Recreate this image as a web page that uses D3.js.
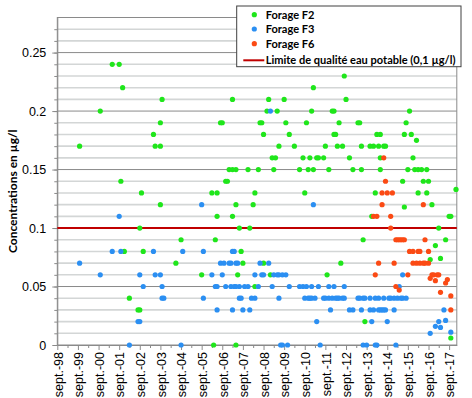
<!DOCTYPE html>
<html>
<head>
<meta charset="utf-8">
<script src="https://cdn.jsdelivr.net/npm/d3@7"></script>
<style>
    body { margin: 0; background: #fff; }
    svg { display: block; font-family: Lato, "Open Sans", sans-serif; }
</style>
</head>
<body>
<svg id="chart" width="472" height="398"></svg>
<script>
// [mois, concentration en µg/l]
const forageF2 = [
    ["1999-10",0.17],["2000-10",0.2],["2001-05",0.24],["2001-09",0.24],["2001-10",0.14],["2001-11",0.22],["2001-12",0.08],
    ["2002-03",0.04],["2002-08",0.03],["2002-09",0.03],["2002-09",0.1],["2002-10",0.13],["2002-11",0.08],
    ["2003-05",0.18],["2003-06",0.17],["2003-09",0.19],["2003-09",0.17],["2003-09",0.12],["2003-10",0.21],
    ["2004-06",0.07],["2004-09",0.09],["2005-09",0.06],
    ["2006-03",0.13],["2006-04",0],["2006-05",0.09],["2006-06",0.13],["2006-06",0.11],["2006-08",0.19],["2006-09",0.19],["2006-11",0.14],["2006-12",0.14],
    ["2007-01",0.15],["2007-03",0.15],["2007-03",0.21],["2007-03",0.11],["2007-05",0.15],["2007-05",0.12],["2007-05",0],["2007-06",0.06],["2007-07",0.1],["2007-08",0.08],["2007-09",0.07],["2007-12",0.15],
    ["2008-01",0.1],["2008-03",0.12],["2008-04",0.13],["2008-04",0.05],["2008-06",0.15],["2008-07",0.19],["2008-08",0.19],["2008-09",0.18],["2008-09",0.07],["2008-11",0.2],["2008-12",0.21],
    ["2009-01",0.06],["2009-02",0.16],["2009-03",0.15],["2009-04",0.16],["2009-05",0.2],["2009-06",0.17],["2009-09",0.21],["2009-10",0.19],["2009-12",0.18],
    ["2010-03",0.17],["2010-06",0.15],["2010-08",0.16],["2010-09",0.13],["2010-10",0.19],["2010-11",0.15],["2010-12",0.16],
    ["2011-01",0.2],["2011-02",0.15],["2011-02",0.22],["2011-04",0.16],["2011-05",0.16],["2011-08",0.16],["2011-09",0.17],["2011-10",0.06],["2011-11",0.15],
    ["2012-01",0.2],["2012-02",0.2],["2012-02",0.18],["2012-03",0.18],["2012-04",0.17],["2012-05",0.19],["2012-06",0.07],["2012-07",0.17],["2012-08",0.23],["2012-09",0.21],["2012-11",0.16],
    ["2013-01",0.15],["2013-04",0.19],["2013-05",0.19],["2013-06",0.17],["2013-06",0.15],["2013-07",0.09],["2013-08",0.02],["2013-11",0.17],["2013-12",0.11],
    ["2014-01",0.17],["2014-02",0.13],["2014-03",0.18],["2014-04",0.17],["2014-05",0.18],["2014-05",0.15],["2014-05",0.16],["2014-07",0.17],["2014-08",0.17],
    ["2015-06",0.14],["2015-07",0.118],["2015-07",0.18],["2015-08",0.19],["2015-09",0.15],["2015-10",0.2],["2015-11",0.18],["2015-12",0.16],
    ["2016-01",0.15],["2016-02",0.175],["2016-03",0.15],["2016-03",0.13],["2016-05",0.15],["2016-06",0.14],["2016-08",0.15],["2016-08",0.13],["2016-09",0.14],["2016-10",0.073],["2016-11",0.12],
    ["2017-01",0.085],["2017-03",0.1],["2017-04",0.074],["2017-07",0.09],["2017-09",0.11],["2017-10",0.11],["2017-10",0.006],["2018-01",0.133]
]

const forageF3 = [
    ["1999-10",0.07],["2000-10",0.06],["2001-05",0.08],["2001-09",0.11],["2001-10",0.08],
    ["2002-03",0],["2002-08",0.02],["2002-09",0.02],["2002-09",0.06],["2002-11",0.05],
    ["2003-05",0.08],["2003-06",0.06],["2003-09",0.06],["2003-10",0.05],["2003-10",0.04],["2003-11",0.04],
    ["2004-09",0],["2004-10",0.08],["2005-09",0.12],["2005-10",0.08],["2005-10",0.04],
    ["2006-03",0.06],["2006-05",0.05],["2006-06",0.05],["2006-06",0.03],["2006-08",0.07],["2006-09",0.06],["2006-10",0.07],["2006-11",0.05],
    ["2007-01",0.07],["2007-02",0.07],["2007-02",0.05],["2007-03",0.08],["2007-03",0.03],["2007-04",0.08],["2007-04",0.05],["2007-05",0.07],["2007-05",0.05],
    ["2007-06",0.07],["2007-07",0.05],["2007-07",0.04],["2007-08",0.04],["2007-09",0.03],["2007-10",0.05],["2007-12",0.05],
    ["2008-01",0.03],["2008-02",0.04],["2008-04",0.06],["2008-04",0.04],["2008-06",0.05],["2008-07",0.07],["2008-08",0.06],["2008-09",0.06],["2008-12",0.07],
    ["2009-01",0.2],["2009-02",0.05],["2009-03",0.06],["2009-05",0.06],["2009-06",0.06],["2009-06",0.04],["2009-07",0],["2009-08",0.06],["2009-08",0],
    ["2009-10",0.06],["2009-11",0],["2009-12",0.05],
    ["2010-06",0.05],["2010-08",0.05],["2010-09",0.04],["2010-10",0.05],["2010-11",0.04],["2010-12",0.04],
    ["2011-01",0.05],["2011-01",0.04],["2011-02",0.12],["2011-03",0.04],["2011-04",0.02],["2011-05",0.05],["2011-06",0],["2011-08",0.04],["2011-09",0.04],
    ["2011-11",0.05],["2011-11",0.04],["2011-12",0.03],
    ["2012-01",0.04],["2012-02",0.05],["2012-03",0.04],["2012-04",0.04],["2012-05",0.04],["2012-07",0.04],["2012-08",0.05],["2012-08",0.04],["2012-11",0.03],
    ["2013-01",0.03],["2013-04",0.04],["2013-05",0.04],["2013-06",0.03],["2013-07",0.04],["2013-07",0],["2013-08",0.04],["2013-09",0],["2013-11",0.04],["2013-11",0.03],["2013-12",0.02],
    ["2014-01",0.03],["2014-02",0.04],["2014-02",0],["2014-03",0],["2014-04",0.04],["2014-04",0.03],["2014-05",0.03],["2014-06",0.03],["2014-07",0.04],["2014-07",0.03],
    ["2014-08",0.03],["2014-09",0.02],["2014-10",0.04],["2014-11",0.04],
    ["2015-01",0.04],["2015-01",0.03],["2015-02",0],["2015-03",0.04],["2015-04",0.05],["2015-05",0.04],["2015-06",0.04],["2015-06",0.06],["2015-08",0.04],
    ["2016-10",0.01],["2017-01",0.016],["2017-03",0.02],["2017-04",0.015],["2017-06",0.03],["2017-07",0.021],["2017-10",0.011]
]

const forageF6 = [
    ["2014-01",0.11],["2014-02",0.06],["2014-03",0.11],["2014-04",0.07],["2014-06",0.13],["2014-06",0.12],["2014-07",0.16],["2014-08",0.14],
    ["2014-09",0.13],["2014-11",0.11],["2014-11",0.1],["2014-12",0.13],
    ["2015-01",0.07],["2015-02",0.09],["2015-03",0.09],["2015-04",0.09],["2015-05",0.09],["2015-06",0.09],["2015-07",0.09],
    ["2015-02",0.05],["2015-04",0.047],["2015-09",0.06],["2015-10",0.08],["2015-12",0.08],["2015-12",0.07],
    ["2016-02",0.07],["2016-03",0.08],["2016-04",0.08],["2016-04",0.07],["2016-06",0.12],["2016-06",0.07],["2016-07",0.09],["2016-07",0.07],
    ["2016-09",0.08],["2016-09",0.07],["2016-10",0.057],["2016-11",0.06],["2016-12",0.06],
    ["2017-01",0.055],["2017-02",0.06],["2017-03",0.06],["2017-04",0.045],["2017-07",0.053],["2017-08",0.056],["2017-10",0.042],["2017-10",0.03]
]

const limite = 0.1
const seriesNames = ["Forage F2", "Forage F3", "Forage F6"]
const limiteLabel = "Limite de qualité eau potable (0,1 µg/l)"
const yTitle = "Concentrations en µg/l"
const yTicks = [0, 0.05, 0.1, 0.15, 0.2, 0.25]
const xTickYears = [1998, 1999, 2000, 2001, 2002, 2003, 2004, 2005, 2006, 2007,
                    2008, 2009, 2010, 2011, 2012, 2013, 2014, 2015, 2016, 2017]
const xTickPrefix = "sept.-"

const colors = ["#1fe61b", "#2b8ff2", "#fb4a14"]
const limiteColor = "#c00000"
const parse = d3.timeParse("%Y-%m")

const plot = {left: 57.3, right: 456.8, top: 17.5, bottom: 345}

const x = d3.scaleTime()
    .domain([new Date(1998, 8, 1), new Date(2018, 0, 15)])
    .range([plot.left, plot.right])
const y = d3.scaleLinear()
    .domain([0, 0.28])
    .range([plot.bottom, plot.top])

const svg = d3.select("#chart")

// gridlines
const minor = d3.range(1, 28).map(i => i / 100)
svg.append("g")
    .attr("stroke", "#d3d6d6")
    .attr("stroke-width", 1.6)
    .selectAll("line")
    .data(minor.filter(v => !yTicks.some(t => Math.abs(t - v) < 1e-9)))
    .join("line")
        .attr("x1", plot.left).attr("x2", plot.right)
        .attr("y1", d => y(d)).attr("y2", d => y(d))

svg.append("g")
    .attr("stroke", "#8a8a8a")
    .attr("stroke-width", 1)
    .selectAll("line")
    .data(yTicks.slice(1))
    .join("line")
        .attr("x1", plot.left).attr("x2", plot.right)
        .attr("y1", d => y(d)).attr("y2", d => y(d))

svg.append("rect")
    .attr("x", plot.left).attr("y", plot.top)
    .attr("width", plot.right - plot.left).attr("height", plot.bottom - plot.top)
    .attr("fill", "none").attr("stroke", "#8a8a8a")

// axes
const xMajor = xTickYears.map(yr => new Date(yr, 8, 1))
const xMinor = xTickYears.slice(1).map(yr => new Date(yr, 2, 1))
const fmtYear = d3.timeFormat("%y")

const gx = svg.append("g")
    .attr("transform", `translate(0,${plot.bottom})`)
    .call(d3.axisBottom(x).tickValues(xMajor).tickSize(5).tickSizeOuter(0)
        .tickFormat(d => xTickPrefix + fmtYear(d)))
gx.selectAll("text")
    .attr("transform", "rotate(-90)")
    .attr("text-anchor", "end")
    .attr("x", -7).attr("y", 0).attr("dy", "0.38em")
    .attr("fill", "#000")
    .style("font-size", "12.5px")
svg.append("g")
    .attr("transform", `translate(0,${plot.bottom})`)
    .call(d3.axisBottom(x).tickValues(xMinor).tickSize(3).tickSizeOuter(0).tickFormat(""))
    .call(g => g.select(".domain").remove())

const gy = svg.append("g")
    .attr("transform", `translate(${plot.left},0)`)
    .call(d3.axisLeft(y).tickValues(yTicks).tickSize(5).tickPadding(6).tickSizeOuter(0)
        .tickFormat(d => String(d)))
gy.selectAll("text").attr("fill", "#000").style("font-size", "12.5px")
svg.append("g")
    .attr("transform", `translate(${plot.left},0)`)
    .call(d3.axisLeft(y).tickValues(minor).tickSize(3).tickSizeOuter(0).tickFormat(""))
    .call(g => g.select(".domain").remove())

svg.selectAll(".domain, .tick line").attr("stroke", "#8a8a8a")

svg.append("text")
    .attr("transform", `translate(12,${(plot.top + plot.bottom) / 2 + 10}) rotate(-90)`)
    .attr("text-anchor", "middle")
    .attr("dominant-baseline", "central")
    .style("font-size", "12px")
    .style("font-weight", "bold")
    .text(yTitle)

// limit line
svg.append("line")
    .attr("x1", plot.left).attr("x2", plot.right)
    .attr("y1", y(limite)).attr("y2", y(limite))
    .attr("stroke", limiteColor).attr("stroke-width", 2)

// points
const series = [forageF2, forageF3, forageF6]
series.forEach((data, i) => {
    svg.append("g")
        .attr("fill", colors[i])
        .selectAll("circle")
        .data(data)
        .join("circle")
            .attr("cx", d => x(parse(d[0])))
            .attr("cy", d => y(d[1]))
            .attr("r", 2.6)
})

// legend
const legend = svg.append("g")
legend.append("rect")
    .attr("x", 236.7).attr("y", 6)
    .attr("width", 224.3).attr("height", 60.7)
    .attr("fill", "#fff").attr("stroke", "#404040")

const rows = [14.7, 29, 43.7, 60.3]
seriesNames.forEach((name, i) => {
    legend.append("circle")
        .attr("cx", 254.3).attr("cy", rows[i]).attr("r", 2.6)
        .attr("fill", colors[i])
})
legend.append("line")
    .attr("x1", 243.3).attr("x2", 264.3)
    .attr("y1", rows[3]).attr("y2", rows[3])
    .attr("stroke", limiteColor).attr("stroke-width", 2)

const labels = legend.selectAll("text")
    .data(seriesNames.concat([limiteLabel]))
    .join("text")
        .attr("x", 265.7)
        .attr("y", (d, i) => rows[i])
        .attr("dy", "0.36em")
        .style("font-size", "12.5px")
        .style("font-weight", "bold")
        .text(d => d)

// keep the long label inside the box
const last = labels.filter((d, i) => i === 3).node()
const w = last.getComputedTextLength()
if (w > 190) labels.style("font-size", (12.5 * 190 / w).toFixed(2) + "px")
</script>
</body>
</html>
